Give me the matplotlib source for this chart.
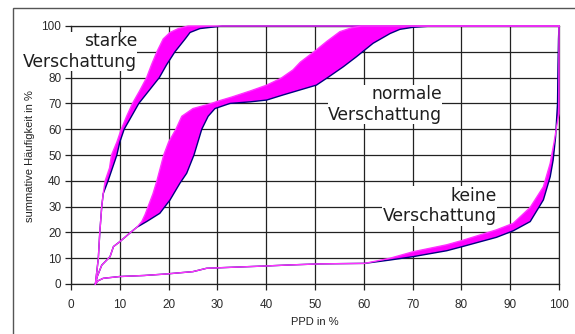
import numpy as np
import matplotlib
matplotlib.use("Agg")
import matplotlib.pyplot as plt
from matplotlib.patches import Rectangle

# ---- data ----
ticks = [0, 10, 20, 30, 40, 50, 60, 70, 80, 90, 100]

# starke Verschattung
starke_up_x = [5, 5.3, 5.6, 5.9, 6.3, 6.6, 7.0, 7.9, 8.3, 9.4, 10.3, 11.4, 12.6, 14.1, 15.5, 16.5, 17.6, 18.9, 20.3, 22.0, 24.0, 100]
starke_up_y = [0, 5, 10, 20, 30, 35, 40, 45, 50, 55, 60, 65, 70, 75, 80, 85, 90, 95, 97.5, 99, 100, 100]
starke_lo_x = [5, 5.3, 5.6, 5.9, 6.3, 6.6, 7.6, 8.5, 9.4, 10.0, 10.9, 12.4, 13.9, 16.0, 18.1, 19.6, 21.3, 23.4, 24.4, 26.4, 31.0, 100]
starke_lo_y = [0, 5, 10, 20, 30, 35, 40, 45, 50, 55, 60, 65, 70, 75, 80, 85, 90, 95, 97.5, 99, 100, 100]

# normale Verschattung
normale_up_x = [5, 5.4, 6.3, 8.0, 8.7, 10.0, 12.4, 13.5, 14.5, 15.2, 15.8, 16.8, 17.6, 18.3, 19.0, 20.0, 21.5, 22.7, 25.0,
                28.8, 30.0, 33.0, 36.7, 40.0, 43.0, 45.5, 47.0, 50.0, 52.4, 55.1, 57.5, 59.5, 100]
normale_up_y = [0, 3, 7.3, 10.6, 14.5, 16.4, 20.3, 22, 24.2, 27, 30, 35, 40, 45, 50, 55, 60, 65, 68,
                70, 70.8, 72.5, 74.8, 77, 79.7, 83, 86, 90.3, 94, 97.8, 99.3, 100, 100]
normale_lo_x = [5, 5.4, 6.3, 8.0, 8.7, 10.0, 12.4, 13.5, 15.5, 18.2, 20.3, 22.3, 23.7, 25.2, 26.8, 28.1, 29.5, 32.6,
                36.7, 40.1, 43.5, 46.9, 50.3, 52.9, 55.8, 58.5, 60.2, 61.9, 65.4, 67.4, 70.1, 74.0, 100]
normale_lo_y = [0, 3, 7.3, 10.6, 14.5, 16.4, 20.3, 22, 24.2, 27.4, 32.6, 39, 42.9, 50, 60, 65, 68, 70,
                70.6, 71.3, 73.3, 75.2, 77.1, 80.4, 84.2, 88.1, 90.7, 93.3, 97.1, 98.7, 99.5, 100, 100]

# keine Verschattung
keine_up_x = [5, 5.5, 6.6, 10, 15, 19.6, 25, 27.8, 33.2, 40.1, 45, 51, 60.2, 65.4, 70.1, 77.0, 80.4, 87.2, 90.6,
              94.1, 96.8, 98.2, 99.0, 99.6, 100, 100]
keine_up_y = [0, 1.2, 2.2, 2.9, 3.3, 3.9, 4.8, 6.1, 6.5, 7.0, 7.4, 7.8, 8.0, 10.0, 12.5, 15.2, 17.0, 21.0, 23.5,
              29.7, 37.7, 46.8, 55, 62, 66, 100]
keine_lo_x = [5, 5.5, 6.6, 10, 15, 19.6, 25, 27.8, 33.2, 40.1, 45, 51, 60.2, 65.4, 70.1, 77.0, 80.4, 87.2, 90.6,
              94.1, 96.8, 98.2, 98.8, 99.3, 99.7, 99.8, 99.9, 100]
keine_lo_y = [0, 1.2, 2.2, 2.9, 3.3, 3.9, 4.8, 6.1, 6.5, 7.0, 7.4, 7.8, 8.0, 9.3, 10.6, 12.9, 14.6, 18.1, 20.6,
              24.2, 32.6, 41.6, 48, 57, 70, 85, 95, 100]

bands = [
    (starke_up_x, starke_up_y, starke_lo_x, starke_lo_y),
    (normale_up_x, normale_up_y, normale_lo_x, normale_lo_y),
    (keine_up_x, keine_up_y, keine_lo_x, keine_lo_y),
]

labels = ["starke\nVerschattung", "normale\nVerschattung", "keine\nVerschattung"]
label_x = [13.5, 76.0, 87.2]
label_y = [90.1, 69.5, 30.2]

# ---- figure ----
W, H = 575, 334
fig = plt.figure(figsize=(W / 100, H / 100), dpi=100)
fig.patch.set_facecolor("white")

# outer frame (chart area border, extends beyond the crop)
fig.patches.append(Rectangle((12.7 / W, -0.2), 1.5, (H - 8.3) / H + 0.2,
                             transform=fig.transFigure, fill=False,
                             edgecolor="#555555", lw=1.0))

ax = fig.add_axes([71 / W, 1 - 284 / H, (559 - 71) / W, (284 - 26) / H])
ax.set_xlim(0, 100)
ax.set_ylim(0, 100)
ax.set_xticks(ticks)
ax.set_yticks(ticks)
ax.set_axisbelow(True)
ax.grid(True, color="#222222", lw=0.9)
for s in ax.spines.values():
    s.set_color("#222222")
    s.set_linewidth(0.9)

tick_font = dict(family="Liberation Sans", size=8.5)
ax.set_xticklabels([str(t) for t in ticks], color="#2a2a2a", **tick_font)
ax.set_yticklabels([str(t) for t in ticks], color="#2a2a2a", **tick_font)
ax.tick_params(axis="both", direction="out", length=4, width=0.9, color="#222222")
ax.tick_params(axis="x", pad=6.5)
ax.tick_params(axis="y", pad=3)

for ux, uy, lx, ly in bands:
    px = np.concatenate([np.asarray(ux), np.asarray(lx)[::-1]])
    py = np.concatenate([np.asarray(uy), np.asarray(ly)[::-1]])
    ax.fill(px, py, color="#FF00FF", lw=0, zorder=3, clip_on=False)
    ax.plot(lx, ly, color="#000080", lw=1.0, zorder=4, clip_on=False)
    ax.plot(ux, uy, color="#FF33FF", lw=1.0, zorder=5, clip_on=False)

for t, x, y in zip(labels, label_x, label_y):
    ax.text(x, y, t, ha="right", va="center", multialignment="right",
            fontsize=12.3, family="DejaVu Sans", color="#1e1e1e", zorder=10,
            linespacing=1.2,
            bbox=dict(facecolor="white", edgecolor="none", pad=0.3),
            clip_on=False)

fig.text(30 / W, 1 - 156.5 / H, "summative Häufigkeit in %", rotation=90,
         ha="center", va="center", family="Liberation Sans", fontsize=8,
         color="#222222")
fig.text(315 / W, 1 - 322 / H, "PPD in %", ha="center", va="center",
         family="Liberation Sans", fontsize=8, color="#222222")

fig.savefig("out.png", dpi=100, facecolor="white")
